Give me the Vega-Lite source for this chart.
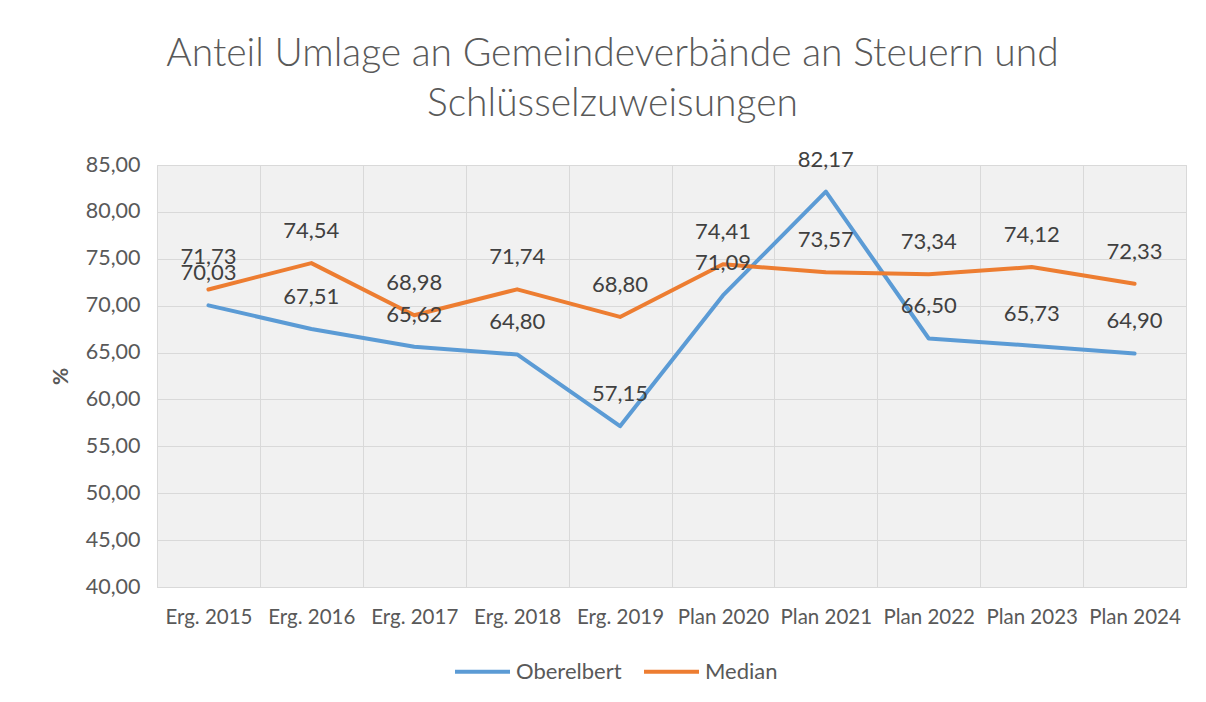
{
  "$schema": "https://vega.github.io/schema/vega-lite/v6.json",
  "width": 1029,
  "height": 422,
  "autosize": {"type": "none"},
  "padding": {"left": 157, "top": 165, "right": 20, "bottom": 115},
  "background": "white",
  "title": {
    "text": ["Anteil Umlage an Gemeindeverbände an Steuern und", "Schlüsselzuweisungen"],
    "font": "Lato",
    "fontSize": 39,
    "fontWeight": 300,
    "color": "#595959",
    "lineHeight": 50,
    "anchor": "middle",
    "frame": "group",
    "dx": -59,
    "offset": 25
  },
  "data": {
    "values": [
      {"Jahr": "Erg. 2015", "Reihe": "Oberelbert", "Wert": 70.03},
      {"Jahr": "Erg. 2016", "Reihe": "Oberelbert", "Wert": 67.51},
      {"Jahr": "Erg. 2017", "Reihe": "Oberelbert", "Wert": 65.62},
      {"Jahr": "Erg. 2018", "Reihe": "Oberelbert", "Wert": 64.80},
      {"Jahr": "Erg. 2019", "Reihe": "Oberelbert", "Wert": 57.15},
      {"Jahr": "Plan 2020", "Reihe": "Oberelbert", "Wert": 71.09},
      {"Jahr": "Plan 2021", "Reihe": "Oberelbert", "Wert": 82.17},
      {"Jahr": "Plan 2022", "Reihe": "Oberelbert", "Wert": 66.50},
      {"Jahr": "Plan 2023", "Reihe": "Oberelbert", "Wert": 65.73},
      {"Jahr": "Plan 2024", "Reihe": "Oberelbert", "Wert": 64.90},
      {"Jahr": "Erg. 2015", "Reihe": "Median", "Wert": 71.73},
      {"Jahr": "Erg. 2016", "Reihe": "Median", "Wert": 74.54},
      {"Jahr": "Erg. 2017", "Reihe": "Median", "Wert": 68.98},
      {"Jahr": "Erg. 2018", "Reihe": "Median", "Wert": 71.74},
      {"Jahr": "Erg. 2019", "Reihe": "Median", "Wert": 68.80},
      {"Jahr": "Plan 2020", "Reihe": "Median", "Wert": 74.41},
      {"Jahr": "Plan 2021", "Reihe": "Median", "Wert": 73.57},
      {"Jahr": "Plan 2022", "Reihe": "Median", "Wert": 73.34},
      {"Jahr": "Plan 2023", "Reihe": "Median", "Wert": 74.12},
      {"Jahr": "Plan 2024", "Reihe": "Median", "Wert": 72.33}
    ]
  },
  "encoding": {
    "x": {
      "field": "Jahr",
      "type": "nominal",
      "sort": null,
      "bandPosition": 0.5,
      "scale": {"type": "band", "paddingInner": 0, "paddingOuter": 0},
      "axis": {
        "title": null,
        "labelAngle": 0,
        "labelFont": "Lato",
        "labelFontSize": 20.5,
        "labelColor": "#595959",
        "labelPadding": 20,
        "ticks": false,
        "tickBand": "extent",
        "grid": true,
        "gridColor": "#d9d9d9",
        "gridWidth": 1,
        "domain": true,
        "domainColor": "#d9d9d9",
        "domainWidth": 1
      }
    },
    "y": {
      "field": "Wert",
      "type": "quantitative",
      "scale": {"domain": [40, 85], "nice": false, "zero": false},
      "axis": {
        "title": "%",
        "titleFont": "Lato",
        "titleFontSize": 21,
        "titleFontWeight": "bold",
        "titleColor": "#595959",
        "titleAngle": -90,
        "titleX": -86,
        "titleY": 211,
        "values": [40, 45, 50, 55, 60, 65, 70, 75, 80, 85],
        "format": ".2f",
        "labelFont": "Lato",
        "labelFontSize": 21.5,
        "labelColor": "#595959",
        "labelPadding": 17,
        "ticks": false,
        "domain": false,
        "grid": true,
        "gridColor": "#d9d9d9",
        "gridWidth": 1
      }
    }
  },
  "layer": [
    {
      "mark": {"type": "line", "strokeWidth": 4, "strokeCap": "round", "strokeJoin": "round"},
      "encoding": {
        "color": {
          "field": "Reihe",
          "type": "nominal",
          "scale": {"domain": ["Oberelbert", "Median"], "range": ["#5B9BD5", "#ED7D31"]},
          "legend": {
            "title": null,
            "orient": "none",
            "direction": "horizontal",
            "legendX": 296,
            "legendY": 477,
            "symbolType": "stroke",
            "symbolSize": 3025,
            "symbolStrokeWidth": 4,
            "labelFont": "Lato",
            "labelFontSize": 22,
            "labelColor": "#595959",
            "labelOffset": 4,
            "columnPadding": 14
          }
        }
      }
    },
    {
      "mark": {"type": "text", "font": "Lato", "fontSize": 22, "color": "#404040", "baseline": "middle", "dy": -32},
      "encoding": {
        "text": {"field": "Wert", "type": "quantitative", "format": ".2f"}
      }
    }
  ],
  "config": {
    "locale": {"number": {"decimal": ",", "thousands": ".", "grouping": [3], "currency": ["", " €"]}},
    "view": {"fill": "#f1f1f1", "stroke": "#d9d9d9"}
  }
}
